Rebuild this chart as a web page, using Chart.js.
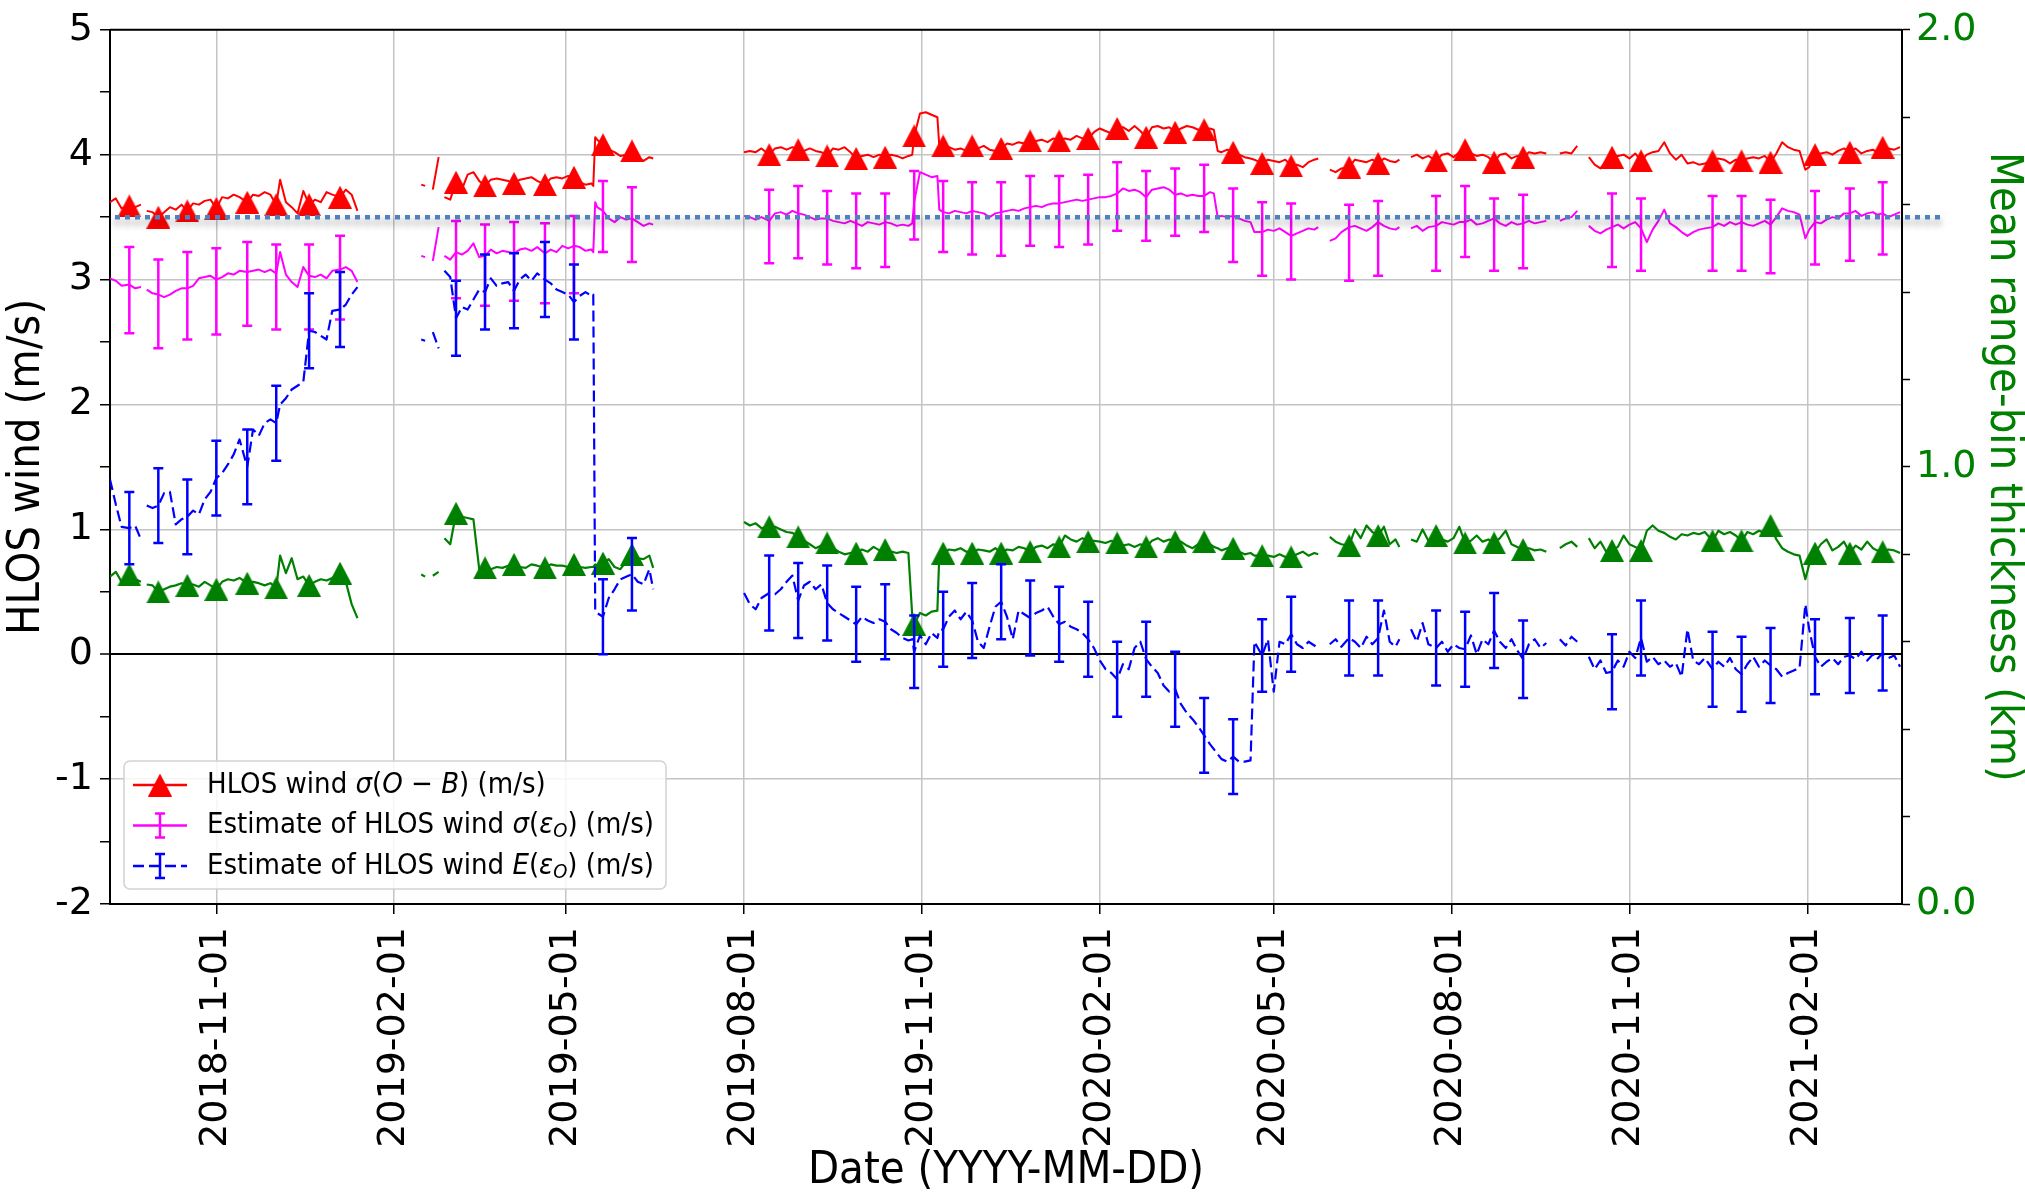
<!DOCTYPE html>
<html>
<head>
<meta charset="utf-8">
<title>HLOS wind statistics</title>
<script src="https://cdn.jsdelivr.net/npm/chart.js@4.4.0/dist/chart.umd.min.js"></script>
<style>
  html, body { margin: 0; padding: 0; background: #fff; }
  canvas { display: block; }
</style>
</head>
<body>
<canvas id="windChart" width="2025" height="1194"></canvas>
<script>
// x values are days since 2018-09-01; a null row breaks the lines where data is missing
const t0 = Date.UTC(2018, 8, 1);

const days = [
  6, 9, 12, 16, 19, 22, 24, 25, 28, 31, 34, 37, 40, 43, 46, 49, 52, 55, 58, 61, 64, 67,
  70, 73, 77, 80, 83, 86, 89, 92, 94, 97, 100, 103, 106, 109, 112, 115, 118, 121, 125,
  128, 131, 134,
  150,
  167, 169, 171, 173, 176, 177.5,
  179, 182, 185, 188, 191, 194, 197, 200, 203, 206, 209, 212, 215, 218, 221, 224, 227,
  231, 234, 237, 240, 243, 246, 249, 252, 255, 256, 257, 258, 261, 264, 267, 270, 273,
  276, 279, 282, 285, 287,
  310,
  334, 337, 340, 343, 347, 350, 353, 356, 359, 362, 365, 368, 371, 374, 377, 380, 383, 386, 389, 392,
  395, 398, 401, 404, 407, 410, 413, 416, 419, 421, 422, 425, 428, 431, 434, 435, 437,
  440, 443, 446, 449, 452, 455, 458, 461, 464, 467, 470, 473, 476, 479, 482,
  485, 488, 491, 494, 497, 500, 503, 506, 509, 512, 515, 518, 521, 524, 527,
  530, 533, 536, 539, 542, 545, 548, 551, 554, 557, 560, 563, 566, 569, 572,
  575, 577, 579, 581, 584, 587, 590, 593, 596, 598, 602,
  605, 608, 611, 614, 617, 620, 623, 626, 629, 631,
  634,
  637, 640, 643, 647, 650, 653, 656, 659, 662, 665, 668, 671, 673,
  676,
  679, 682, 685, 688, 692, 695, 698, 701, 704, 707, 710, 713, 716, 719, 722, 725, 728, 731, 734, 737, 740, 743, 746, 749,
  752,
  756, 759, 762, 765,
  768,
  771, 774, 777, 780, 783, 786, 789, 792, 795, 798, 801, 804, 807, 810, 813, 816, 819, 822, 825, 828, 831,
  835, 838, 841, 844, 847, 850, 853, 856, 859, 862, 865, 868, 871, 874, 877, 880, 883, 885, 888,
  891, 894, 897, 900, 903, 906, 909, 912, 915, 918, 920, 923, 926, 929, 932
];

// HLOS wind sigma(O-B), m/s
const sigmaOB = [
  3.62, 3.65, 3.57, 3.59, 3.58, 3.60, null, 3.55, 3.54, 3.50, 3.54, 3.58, 3.56, 3.60, 3.55, 3.61, 3.60, 3.63, 3.64, 3.57, 3.66, 3.65,
  3.68, 3.66, 3.62, 3.68, 3.67, 3.70, 3.68, 3.60, 3.80, 3.62, 3.58, 3.53, 3.71, 3.60, 3.64, 3.62, 3.70, 3.68, 3.66,
  3.72, 3.68, 3.55,
  null,
  3.76, 3.75, null, 3.72, 3.98, null,
  3.66, 3.64, 3.78, 3.72, 3.84, 3.86, 3.79, 3.75, 3.80, 3.81, 3.80, 3.79, 3.77, 3.80, 3.81, 3.82, 3.79,
  3.76, 3.81, 3.82, 3.81, 3.83, 3.82, 3.78, 3.76, 3.77, 3.75, 4.14, 4.12, 4.08, 4.04, 4.02, 3.99, 4.00,
  4.03, 3.98, 3.95, 3.98, 3.97,
  null,
  4.02, 4.03, 4.02, 4.05, 4.00, 4.05, 4.06, 4.04, 4.06, 4.04, 4.03, 4.05, 4.03, 4.02, 3.99, 4.05, 4.04, 4.06, 4.02, 3.97,
  3.99, 4.00, 3.98, 4.00, 3.98, 4.00, 3.99, 3.97, 3.99, 4.00, 4.15, 4.33, 4.34, 4.32, 4.30, 4.07, 4.07,
  4.06, 4.04, 4.05, 4.03, 4.07, 4.05, 4.07, 4.04, 4.03, 4.05, 4.09, 4.08, 4.10, 4.09, 4.11,
  4.11, 4.12, 4.10, 4.13, 4.11, 4.13, 4.12, 4.15, 4.13, 4.13, 4.18, 4.21, 4.19, 4.17, 4.21,
  4.22, 4.19, 4.23, 4.19, 4.14, 4.22, 4.23, 4.21, 4.22, 4.18, 4.21, 4.23, 4.22, 4.20, 4.20,
  4.21, 4.20, 4.03, 4.02, 4.04, 4.02, 4.00, 3.98, 3.97, 3.96, 3.93,
  3.96, 3.95, 3.94, 3.96, 3.91, 3.92, 3.90, 3.94, 3.96, 3.97,
  null,
  3.88, 3.86, 3.89, 3.90, 3.96, 3.95, 3.94, 3.96, 3.93, 3.97, 3.95, 3.94, 3.96,
  null,
  3.98, 4.00, 3.97, 3.99, 3.95, 4.00, 4.01, 3.98, 4.02, 4.04, 4.01, 3.99, 4.00, 3.98, 3.94, 4.00, 4.01, 3.97, 3.99, 3.98, 4.02, 4.01, 4.02, 4.01,
  null,
  4.01, 4.02, 4.01, 4.07,
  null,
  3.98, 3.92, 3.89, 3.95, 3.98, 3.99, 4.00, 3.97, 4.01, 3.95, 4.00, 4.02, 4.03, 4.10, 4.01, 3.96, 4.00, 3.93, 3.94, 3.92, 3.93,
  3.95, 3.97, 3.96, 3.93, 3.96, 3.95, 3.97, 3.98, 3.97, 3.99, 3.94, 4.01, 4.10, 4.06, 4.04, 4.03, 3.88, 3.90, 4.00,
  4.01, 4.02, 4.00, 4.03, 4.05, 4.02, 4.05, 4.01, 4.03, 4.04, 4.02, 4.06, 4.05, 4.04, 4.06
];

// estimated HLOS wind sigma(eps_O), m/s
const sigmaEps = [
  3.01, 2.99, 2.95, 2.96, 2.93, 2.94, null, 2.92, 2.89, 2.88, 2.86, 2.88, 2.91, 2.93, 2.93, 2.95, 3.01, 3.02, 3.03, 3.00, 3.02, 3.05,
  3.04, 3.07, 3.06, 3.07, 3.08, 3.06, 3.08, 3.05, 3.22, 3.04, 2.98, 2.94, 3.10, 3.03, 3.02, 3.04, 3.01, 3.07, 3.08,
  3.10, 3.07, 2.98,
  null,
  3.19, 3.18, null, 3.15, 3.42, null,
  3.19, 3.16, 3.22, 3.20, 3.23, 3.29, 3.18, 3.19, 3.24, 3.21, 3.23, 3.22, 3.21, 3.24, 3.25, 3.23, 3.26,
  3.21, 3.24, 3.22, 3.27, 3.25, 3.27, 3.26, 3.23, 3.24, 3.22, 3.62, 3.58, 3.55, 3.49, 3.46, 3.50, 3.48,
  3.49, 3.46, 3.43, 3.45, 3.44,
  null,
  3.51, 3.50, 3.48, 3.50, 3.47, 3.53, 3.54, 3.52, 3.55, 3.53, 3.52, 3.50, 3.48, 3.49, 3.49, 3.47, 3.46, 3.45, 3.47, 3.45,
  3.43, 3.46, 3.45, 3.44, 3.46, 3.45, 3.43, 3.44, 3.43, 3.45, 3.62, 3.86, 3.84, 3.82, 3.83, 3.56, 3.54,
  3.53, 3.55, 3.54, 3.53, 3.55, 3.54, 3.53, 3.50, 3.53, 3.54, 3.55, 3.56, 3.55, 3.57, 3.58,
  3.59, 3.58, 3.60, 3.61, 3.61, 3.62, 3.63, 3.64, 3.63, 3.64, 3.65, 3.66, 3.66, 3.67, 3.69,
  3.73, 3.71, 3.72, 3.70, 3.66, 3.72, 3.73, 3.74, 3.72, 3.68, 3.69, 3.67, 3.68, 3.67, 3.67,
  3.70, 3.69, 3.50, 3.51, 3.50, 3.51, 3.49, 3.47, 3.46, 3.38, 3.38,
  3.40, 3.39, 3.41, 3.38, 3.35, 3.37, 3.39, 3.41, 3.40, 3.42,
  null,
  3.31, 3.33, 3.38, 3.42, 3.43, 3.41, 3.39, 3.42, 3.46, 3.43, 3.41, 3.40, 3.42,
  null,
  3.41, 3.43, 3.39, 3.42, 3.43, 3.46, 3.45, 3.44, 3.46, 3.46, 3.48, 3.44, 3.45, 3.47, 3.49, 3.45, 3.43, 3.46, 3.44, 3.45, 3.47, 3.45, 3.46, 3.47,
  null,
  3.47, 3.49, 3.50, 3.55,
  null,
  3.43, 3.39, 3.37, 3.40, 3.42, 3.44, 3.41, 3.44, 3.46, 3.41, 3.30, 3.40, 3.47, 3.56, 3.45, 3.42, 3.38, 3.35, 3.38, 3.40, 3.41,
  3.42, 3.45, 3.43, 3.46, 3.44, 3.46, 3.44, 3.43, 3.45, 3.47, 3.44, 3.50, 3.57, 3.55, 3.54, 3.52, 3.33, 3.40, 3.46,
  3.45, 3.48, 3.50, 3.49, 3.53, 3.53, 3.55, 3.51, 3.53, 3.54, 3.52, 3.53, 3.50, 3.52, 3.54
];

// estimated HLOS wind E(eps_O), m/s
const meanEps = [
  1.40, 1.20, 1.02, 1.01, 1.03, 0.92, null, 1.19, 1.17, 1.19, 1.29, 1.30, 1.04, 1.08, 1.10, 1.15, 1.12, 1.24, 1.30, 1.41, 1.45, 1.52,
  1.60, 1.72, 1.50, 1.80, 1.75, 1.85, 1.88, 1.85, 2.00, 2.05, 2.12, 2.15, 2.18, 2.59, 2.58, 2.55, 2.52, 2.75, 2.76,
  2.80, 2.88, 2.94,
  null,
  2.52, 2.51, null, 2.58, 2.45, null,
  3.07, 3.02, 2.69, 2.78, 2.76, 2.84, 2.92, 2.90, 3.01, 2.95, 2.97, 2.98, 2.91, 3.00, 3.04, 2.99, 3.05,
  3.00, 2.97, 2.92, 2.90, 2.88, 2.82, 2.87, 2.90, 2.87, 2.88, 0.35, 0.33, 0.30, 0.45, 0.52, 0.60, 0.62,
  0.64, 0.58, 0.56, 0.68, 0.52,
  null,
  0.49, 0.40, 0.36, 0.45, 0.49, 0.48, 0.52, 0.58, 0.63, 0.43, 0.55, 0.58, 0.52, 0.56, 0.41, 0.36, 0.33, 0.30, 0.27, 0.24,
  0.30, 0.27, 0.25, 0.28, 0.26, 0.20, 0.17, 0.13, 0.11, 0.12, 0.02, 0.15, 0.08, 0.17, 0.13, 0.19, 0.20,
  0.30, 0.35, 0.28, 0.34, 0.27, 0.10, 0.05, 0.22, 0.38, 0.42, 0.30, 0.12, 0.35, 0.32, 0.29,
  0.33, 0.35, 0.38, 0.30, 0.24, 0.26, 0.22, 0.20, 0.17, 0.12, 0.05, -0.05, -0.12, -0.15, -0.20,
  -0.08, -0.12, 0.05, 0.10, -0.04, -0.10, -0.15, -0.25, -0.30, -0.28, -0.40, -0.47, -0.52, -0.58, -0.65,
  -0.72, -0.76, -0.80, -0.84, -0.86, -0.82, -0.86, -0.86, -0.85, 0.10, -0.01,
  0.12, -0.30, 0.10, 0.08, 0.16, 0.08, 0.05, 0.10, 0.07, 0.05,
  null,
  0.08, 0.12, 0.06, 0.13, 0.10, 0.05, 0.14, 0.08, 0.13, 0.35, 0.10, 0.06, 0.12,
  null,
  0.20, 0.10, 0.25, 0.08, 0.05, 0.10, 0.02, 0.08, 0.05, 0.04, 0.15, 0.00, 0.12, 0.08, 0.19, 0.10, 0.05, 0.12, 0.03, -0.04, 0.08, 0.12, 0.05, 0.09,
  null,
  0.12, 0.07, 0.14, 0.10,
  null,
  -0.02, -0.12, -0.05, -0.15, -0.14, -0.05, -0.10, 0.02, -0.03, 0.13, -0.06, -0.02, -0.08, -0.05, -0.10, -0.07, -0.18, 0.20, -0.05, -0.08, -0.03,
  -0.12, -0.06, -0.10, -0.03, -0.12, -0.16, -0.08, -0.02, -0.10, -0.05, -0.09, -0.12, -0.18, -0.15, -0.13, -0.11, 0.40, 0.20, -0.02,
  -0.10, -0.06, -0.03, -0.08, -0.02, -0.01, -0.04, 0.02, -0.05, 0.00, -0.04, 0.01, -0.03, -0.01, -0.10
];

// mean range-bin thickness, km (right axis)
const binKm = [
  0.749, 0.760, 0.737, 0.753, 0.743, 0.737, null, 0.731, 0.729, 0.714, 0.720, 0.726, 0.729, 0.734, 0.729, 0.731, 0.726, 0.737, 0.729, 0.720, 0.737, 0.743,
  0.740, 0.746, 0.734, 0.737, 0.734, 0.729, 0.734, 0.723, 0.797, 0.757, 0.791, 0.743, 0.749, 0.729, 0.737, 0.743, 0.740, 0.746, 0.757,
  0.737, 0.686, 0.654,
  null,
  0.754, 0.749, null, 0.751, 0.760, null,
  0.837, 0.823, 0.894, 0.886, 0.883, 0.880, 0.766, 0.769, 0.766, 0.771, 0.769, 0.774, 0.777, 0.771, 0.769, 0.777, 0.774,
  0.769, 0.777, 0.774, 0.774, 0.771, 0.777, 0.771, 0.769, 0.771, 0.771, 0.777, 0.774, 0.780, 0.789, 0.771, 0.766, 0.783,
  0.800, 0.791, 0.789, 0.797, 0.769,
  null,
  0.874, 0.866, 0.871, 0.860, 0.863, 0.863, 0.857, 0.851, 0.849, 0.840, 0.831, 0.823, 0.814, 0.820, 0.826, 0.814, 0.806, 0.800, 0.803, 0.803,
  0.811, 0.806, 0.817, 0.809, 0.811, 0.806, 0.803, 0.806, 0.803, 0.660, 0.640, 0.666, 0.660, 0.669, 0.671, 0.800, 0.803,
  0.811, 0.809, 0.814, 0.806, 0.803, 0.811, 0.809, 0.806, 0.814, 0.803, 0.811, 0.809, 0.817, 0.814, 0.806,
  0.817, 0.820, 0.814, 0.823, 0.817, 0.843, 0.834, 0.829, 0.837, 0.829, 0.831, 0.829, 0.826, 0.831, 0.826,
  0.820, 0.823, 0.817, 0.823, 0.817, 0.831, 0.837, 0.829, 0.834, 0.829, 0.829, 0.820, 0.814, 0.823, 0.829,
  0.823, 0.817, 0.814, 0.809, 0.814, 0.814, 0.806, 0.800, 0.803, 0.797, 0.797,
  0.797, 0.794, 0.800, 0.794, 0.794, 0.800, 0.806, 0.797, 0.803, 0.800,
  null,
  0.840, 0.829, 0.823, 0.820, 0.857, 0.837, 0.866, 0.851, 0.843, 0.863, 0.823, 0.834, 0.817,
  null,
  0.834, 0.829, 0.857, 0.831, 0.843, 0.834, 0.829, 0.837, 0.863, 0.826, 0.831, 0.843, 0.829, 0.834, 0.826, 0.837, 0.854, 0.823, 0.817, 0.811, 0.814, 0.809, 0.811, 0.806,
  null,
  0.814, 0.823, 0.829, 0.817,
  null,
  0.837, 0.814, 0.829, 0.806, 0.809, 0.817, 0.843, 0.823, 0.817, 0.809, 0.854, 0.866, 0.854, 0.849, 0.840, 0.834, 0.846, 0.843, 0.849, 0.846, 0.851,
  0.831, 0.854, 0.846, 0.851, 0.843, 0.831, 0.851, 0.846, 0.854, 0.849, 0.866, 0.834, 0.814, 0.806, 0.800, 0.797, 0.743, 0.777, 0.803,
  0.823, 0.834, 0.809, 0.817, 0.829, 0.803, 0.820, 0.811, 0.829, 0.814, 0.809, 0.806, 0.811, 0.809, 0.803
];

// days carrying a triangle marker and the error bars
const markDays = [
  16, 31, 46, 61, 77, 92, 109, 125,
  185, 200, 215, 231, 246, 261, 276,
  347, 362, 377, 392, 407, 422, 437, 452, 467, 482, 497, 512, 527, 542, 557, 572, 587, 602, 617,
  647, 662, 692, 707, 722, 737, 783, 798, 835, 850, 865, 888, 906, 923
];
const sigmaEpsUp = [
  0.30, 0.28, 0.29, 0.25, 0.24, 0.23, 0.25, 0.27,
  0.25, 0.25, 0.25, 0.24, 0.24, 0.24, 0.25,
  0.25, 0.22, 0.22, 0.24, 0.23, 0.25, 0.25, 0.23, 0.24, 0.25, 0.22, 0.20, 0.25, 0.21, 0.21, 0.25, 0.22, 0.24, 0.26,
  0.18, 0.17, 0.24, 0.29, 0.16, 0.23, 0.27, 0.24, 0.25, 0.21, 0.20, 0.25, 0.20, 0.25
];
const sigmaEpsDown = [
  0.39, 0.43, 0.41, 0.44, 0.43, 0.45, 0.43, 0.40,
  0.37, 0.40, 0.38, 0.40, 0.38, 0.33, 0.35,
  0.34, 0.36, 0.37, 0.36, 0.36, 0.30, 0.32, 0.35, 0.35, 0.31, 0.35, 0.36, 0.30, 0.35, 0.33, 0.29, 0.37, 0.35, 0.35,
  0.43, 0.43, 0.36, 0.28, 0.42, 0.36, 0.32, 0.34, 0.35, 0.39, 0.39, 0.34, 0.38, 0.33
];
const meanEpsErr = [
  0.29, 0.30, 0.30, 0.30, 0.30, 0.30, 0.30, 0.30,
  0.30, 0.30, 0.30, 0.30, 0.30, 0.30, 0.29,
  0.30, 0.30, 0.30, 0.30, 0.30, 0.29, 0.30, 0.30, 0.30, 0.30, 0.30, 0.30, 0.30, 0.30, 0.30, 0.30, 0.30, 0.29, 0.30,
  0.30, 0.30, 0.30, 0.30, 0.30, 0.31, 0.30, 0.30, 0.30, 0.30, 0.30, 0.30, 0.30, 0.30
];

const dateTicks = [
  '2018-11-01', '2019-02-01', '2019-05-01', '2019-08-01', '2019-11-01',
  '2020-02-01', '2020-05-01', '2020-08-01', '2020-11-01', '2021-02-01'
];
const refLevel = 3.5;

const FONT_TICK = '"DejaVu Sans", sans-serif';
const FONT_TEXT = '"DejaVu Sans Condensed", "DejaVu Sans", sans-serif';
const GRID = '#c4c4c4';

const tickDays = dateTicks.map(s => (Date.parse(s) - t0) / 864e5);
const dayIndex = new Map(days.map((d, i) => [d, i]));
const markSet = new Set(markDays);
const pts = vals => days.map((d, i) => ({ x: d, y: vals[i] }));

function triangle(color) {
  const c = document.createElement('canvas');
  c.width = 24;
  c.height = 23;
  const g = c.getContext('2d');
  g.fillStyle = color;
  g.beginPath();
  g.moveTo(12, 0);
  g.lineTo(24, 23);
  g.lineTo(0, 23);
  g.closePath();
  g.fill();
  return c;
}
const triRed = triangle('#ff0000');
const triGreen = triangle('#008000');
const markerRadius = ctx => (ctx.raw && markSet.has(ctx.raw.x) ? 12 : 0);

function drawBar(ctx, x, yTop, yBot, cap) {
  ctx.beginPath();
  ctx.moveTo(x, yTop); ctx.lineTo(x, yBot);
  ctx.moveTo(x - cap, yTop); ctx.lineTo(x + cap, yTop);
  ctx.moveTo(x - cap, yBot); ctx.lineTo(x + cap, yBot);
  ctx.stroke();
}

const errorBars = {
  id: 'errorBars',
  afterDatasetDraw(chart, args) {
    const ds = chart.data.datasets[args.index];
    if (!ds.errUp) return;
    const ctx = chart.ctx;
    const xs = chart.scales.x;
    const ys = chart.scales[ds.yAxisID || 'y'];
    ctx.save();
    ctx.strokeStyle = ds.borderColor;
    ctx.lineWidth = 2.5;
    ctx.setLineDash([]);
    markDays.forEach((d, k) => {
      const v = ds.data[dayIndex.get(d)].y;
      if (v === null) return;
      drawBar(ctx, xs.getPixelForValue(d),
        ys.getPixelForValue(v + ds.errUp[k]), ys.getPixelForValue(v - ds.errDown[k]), 5);
    });
    ctx.restore();
  }
};

const frame = {
  id: 'frame',
  afterDatasetsDraw(chart) {
    const { ctx, chartArea: a } = chart;
    const y = chart.scales.y.getPixelForValue(refLevel);
    ctx.save();
    ctx.strokeStyle = '#4f81bd';
    ctx.lineWidth = 4.5;
    ctx.setLineDash([5, 5]);
    ctx.shadowColor = 'rgba(0,0,0,0.45)';
    ctx.shadowBlur = 7;
    ctx.shadowOffsetY = 5;
    ctx.beginPath();
    ctx.moveTo(a.left + 5, y);
    ctx.lineTo(a.right + 43, y);
    ctx.stroke();
    ctx.restore();

    ctx.save();
    ctx.strokeStyle = '#000';
    ctx.lineWidth = 2;
    ctx.beginPath();
    ctx.moveTo(a.left, a.top);
    ctx.lineTo(a.right, a.top);
    ctx.stroke();
    ctx.restore();
  }
};

const legendRows = [
  { color: '#ff0000', dash: [], bar: false,
    runs: [['HLOS wind ', ''], ['σ', 'i'], ['(', ''], ['O', 'i'], [' − ', ''], ['B', 'i'], [') (m/s)', '']] },
  { color: '#ff00ff', dash: [], bar: true,
    runs: [['Estimate of HLOS wind ', ''], ['σ', 'i'], ['(', ''], ['ε', 'i'], ['O', 'sub'], [') (m/s)', '']] },
  { color: '#0000ff', dash: [11, 5], bar: true,
    runs: [['Estimate of HLOS wind ', ''], ['E', 'i'], ['(', ''], ['ε', 'i'], ['O', 'sub'], [') (m/s)', '']] }
];

function textRuns(ctx, runs, x, y, size, draw) {
  for (const [s, style] of runs) {
    const sub = style === 'sub';
    const fs = sub ? Math.round(size * 0.7) : size;
    ctx.font = (style ? 'italic ' : '') + fs + 'px ' + FONT_TEXT;
    if (draw) ctx.fillText(s, x, sub ? y + size * 0.22 : y);
    x += ctx.measureText(s).width;
  }
  return x;
}

const boxLegend = {
  id: 'boxLegend',
  afterDraw(chart) {
    const { ctx, chartArea: a } = chart;
    const size = 29;
    const x0 = a.left + 14, y0 = a.bottom - 143, h = 128;
    ctx.save();
    let maxW = 0;
    legendRows.forEach(r => { maxW = Math.max(maxW, textRuns(ctx, r.runs, 0, 0, size, false)); });
    const w = 83 + maxW + 12;
    ctx.beginPath();
    ctx.roundRect(x0, y0, w, h, 6);
    ctx.fillStyle = 'rgba(255,255,255,0.85)';
    ctx.fill();
    ctx.strokeStyle = '#d2d2d2';
    ctx.lineWidth = 1.5;
    ctx.stroke();

    legendRows.forEach((r, i) => {
      const y = y0 + 24 + i * 40.5;
      ctx.strokeStyle = r.color;
      ctx.lineWidth = 2.5;
      ctx.setLineDash(r.dash);
      ctx.beginPath();
      ctx.moveTo(x0 + 9, y);
      ctx.lineTo(x0 + 63, y);
      ctx.stroke();
      ctx.setLineDash([]);
      if (r.bar) {
        drawBar(ctx, x0 + 36, y - 12, y + 12, 5);
      } else {
        ctx.drawImage(triRed, x0 + 36 - triRed.width / 2, y - triRed.height / 2);
      }
      ctx.fillStyle = '#000';
      ctx.textBaseline = 'middle';
      ctx.textAlign = 'left';
      textRuns(ctx, r.runs, x0 + 83, y, size, true);
    });
    ctx.restore();
  }
};

const yTicks = [];
for (let i = -4; i <= 10; i++) yTicks.push(i / 2);
const y2Ticks = [];
for (let i = 0; i <= 20; i++) y2Ticks.push(i / 10);

new Chart(document.getElementById('windChart'), {
  type: 'line',
  data: {
    datasets: [
      {
        label: 'HLOS wind σ(O − B) (m/s)',
        data: pts(sigmaOB),
        borderColor: '#ff0000',
        borderWidth: 2,
        pointStyle: triRed,
        pointRadius: markerRadius,
        pointBorderWidth: 0,
        order: 2
      },
      {
        label: 'Estimate of HLOS wind σ(εO) (m/s)',
        data: pts(sigmaEps),
        borderColor: '#ff00ff',
        borderWidth: 2,
        pointRadius: 0,
        errUp: sigmaEpsUp,
        errDown: sigmaEpsDown,
        order: 1
      },
      {
        label: 'Estimate of HLOS wind E(εO) (m/s)',
        data: pts(meanEps),
        borderColor: '#0000ff',
        borderWidth: 2.2,
        borderDash: [11, 5],
        pointRadius: 0,
        errUp: meanEpsErr,
        errDown: meanEpsErr,
        order: 0
      },
      {
        label: 'Mean range-bin thickness (km)',
        data: pts(binKm),
        yAxisID: 'y2',
        borderColor: '#008000',
        borderWidth: 2.2,
        pointStyle: triGreen,
        pointRadius: markerRadius,
        pointBorderWidth: 0,
        order: 3
      }
    ]
  },
  options: {
    responsive: false,
    animation: false,
    devicePixelRatio: 1,
    events: [],
    spanGaps: false,
    layout: { padding: { top: 28, left: 0, right: 0, bottom: 0 } },
    elements: { line: { tension: 0, fill: false, borderJoinStyle: 'round' } },
    plugins: { legend: { display: false }, tooltip: { enabled: false } },
    scales: {
      x: {
        type: 'linear',
        min: 6,
        max: 933,
        afterBuildTicks: s => { s.ticks = tickDays.map(v => ({ value: v })); },
        afterFit: s => { s.height = 290; },
        ticks: {
          callback: (v, i) => dateTicks[i],
          autoSkip: false,
          minRotation: 90,
          maxRotation: 90,
          padding: 13,
          color: '#000',
          font: { family: FONT_TICK, size: 38 }
        },
        grid: { color: GRID, lineWidth: 1.5, tickColor: '#000', tickLength: 10, tickWidth: 1.5 },
        border: { color: '#000', width: 2 },
        title: {
          display: true,
          text: 'Date (YYYY-MM-DD)',
          color: '#000',
          padding: 0,
          font: { family: FONT_TEXT, size: 45, lineHeight: 1 }
        }
      },
      y: {
        position: 'left',
        min: -2,
        max: 5,
        afterBuildTicks: s => { s.ticks = yTicks.map(v => ({ value: v })); },
        afterFit: s => { s.width = 110; },
        ticks: {
          callback: v => (Number.isInteger(v) ? String(v) : ''),
          padding: 7,
          color: '#000',
          font: { family: FONT_TICK, size: 38 }
        },
        grid: {
          color: c => (c.tick.value === 0 ? '#000' : Number.isInteger(c.tick.value) ? GRID : 'rgba(0,0,0,0)'),
          lineWidth: c => (c.tick.value === 0 ? 2 : 1.5),
          tickColor: '#000',
          tickLength: 10,
          tickWidth: 1.5
        },
        border: { color: '#000', width: 2 },
        title: {
          display: true,
          text: 'HLOS wind (m/s)',
          color: '#000',
          padding: { top: 5, bottom: 0 },
          font: { family: FONT_TEXT, size: 45, lineHeight: 1 }
        }
      },
      y2: {
        position: 'right',
        min: 0,
        max: 2,
        afterBuildTicks: s => { s.ticks = y2Ticks.map(v => ({ value: v })); },
        afterFit: s => { s.width = 123; },
        ticks: {
          callback: v => (Math.round(v * 10) % 5 === 0 ? v.toFixed(1) : ''),
          padding: 6,
          color: '#008000',
          font: { family: FONT_TICK, size: 38 }
        },
        grid: { drawOnChartArea: false, tickColor: '#000', tickLength: 8, tickWidth: 1.5 },
        border: { color: '#000', width: 2 },
        title: {
          display: true,
          text: 'Mean range-bin thickness (km)',
          color: '#008000',
          padding: 0,
          font: { family: FONT_TEXT, size: 45, lineHeight: 1 }
        }
      }
    }
  },
  plugins: [errorBars, frame, boxLegend]
});
</script>
</body>
</html>
